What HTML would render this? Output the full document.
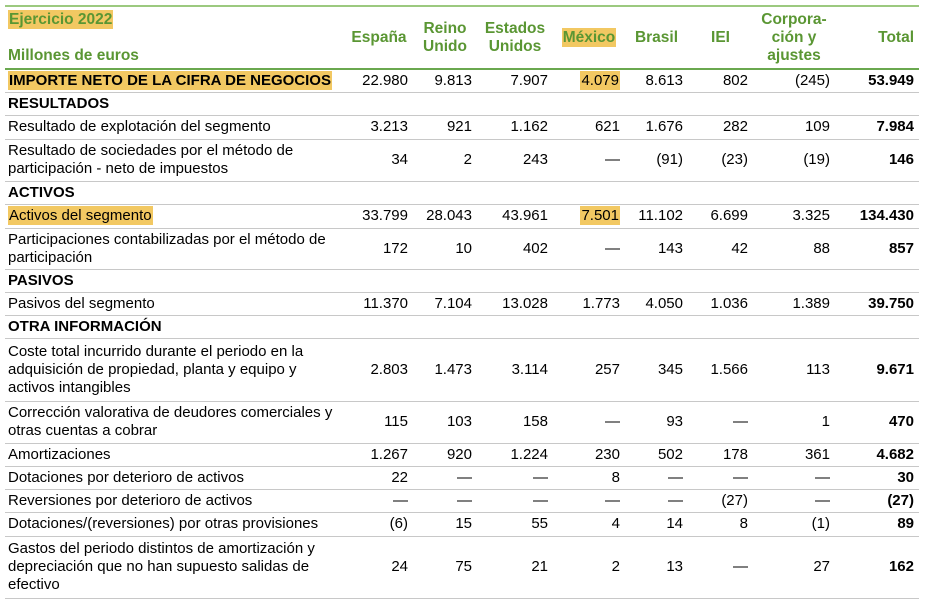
<!DOCTYPE html>
<html><head><meta charset="utf-8"><style>
body{margin:0;width:927px;height:608px;background:#fff;font-family:"Liberation Sans",Arial,sans-serif;color:#000;}
table{position:absolute;left:5px;top:5px;border-collapse:collapse;table-layout:fixed;width:914px;font-size:15px;line-height:18px;}
td,th{padding:0 5px;border-bottom:1px solid #c8c8c8;vertical-align:middle;white-space:nowrap;}
td:first-child{padding-left:3px;}
th{color:#5a9633;font-weight:bold;text-align:center;vertical-align:middle;font-size:15.5px;}
thead tr{border-top:2px solid #9cc97f;}
thead th{border-bottom:2px solid #6aa84f;}
td.n{text-align:right;}
td.t{font-weight:bold;text-align:right;}
.b{font-weight:bold;}
.hl{background:#f2c862;padding:1px 1px;}
</style></head><body>
<table>
<colgroup><col style="width:340px"><col style="width:68px"><col style="width:64px"><col style="width:76px"><col style="width:72px"><col style="width:63px"><col style="width:65px"><col style="width:82px"><col style="width:84px"></colgroup>
<thead><tr style="height:63px">
<th style="text-align:left;vertical-align:top;padding-top:4px;padding-left:3px"><span class="hl">Ejercicio 2022</span><div style="margin-top:18px">Millones de euros</div></th>
<th>España</th>
<th>Reino<br>Unido</th>
<th>Estados<br>Unidos</th>
<th><span class="hl">México</span></th>
<th>Brasil</th>
<th>IEI</th>
<th>Corpora-<br>ción y<br>ajustes</th>
<th style="text-align:right">Total</th>
</tr></thead>
<tbody>
<tr style="height:23px"><td class="b"><span class="hl">IMPORTE NETO DE LA CIFRA DE NEGOCIOS</span></td><td class="n">22.980</td><td class="n">9.813</td><td class="n">7.907</td><td class="n"><span class="hl">4.079</span></td><td class="n">8.613</td><td class="n">802</td><td class="n">(245)</td><td class="t">53.949</td></tr>
<tr style="height:23px"><td class="b" colspan="9">RESULTADOS</td></tr>
<tr style="height:24px"><td>Resultado de explotación del segmento</td><td class="n">3.213</td><td class="n">921</td><td class="n">1.162</td><td class="n">621</td><td class="n">1.676</td><td class="n">282</td><td class="n">109</td><td class="t">7.984</td></tr>
<tr style="height:42px"><td>Resultado de sociedades por el método de<br>participación - neto de impuestos</td><td class="n">34</td><td class="n">2</td><td class="n">243</td><td class="n">—</td><td class="n">(91)</td><td class="n">(23)</td><td class="n">(19)</td><td class="t">146</td></tr>
<tr style="height:23px"><td class="b" colspan="9">ACTIVOS</td></tr>
<tr style="height:24px"><td><span class="hl">Activos del segmento</span></td><td class="n">33.799</td><td class="n">28.043</td><td class="n">43.961</td><td class="n"><span class="hl">7.501</span></td><td class="n">11.102</td><td class="n">6.699</td><td class="n">3.325</td><td class="t">134.430</td></tr>
<tr style="height:41px"><td>Participaciones contabilizadas por el método de<br>participación</td><td class="n">172</td><td class="n">10</td><td class="n">402</td><td class="n">—</td><td class="n">143</td><td class="n">42</td><td class="n">88</td><td class="t">857</td></tr>
<tr style="height:23px"><td class="b" colspan="9">PASIVOS</td></tr>
<tr style="height:23px"><td>Pasivos del segmento</td><td class="n">11.370</td><td class="n">7.104</td><td class="n">13.028</td><td class="n">1.773</td><td class="n">4.050</td><td class="n">1.036</td><td class="n">1.389</td><td class="t">39.750</td></tr>
<tr style="height:23px"><td class="b" colspan="9">OTRA INFORMACIÓN</td></tr>
<tr style="height:63px"><td>Coste total incurrido durante el periodo en la<br>adquisición de propiedad, planta y equipo y<br>activos intangibles</td><td class="n">2.803</td><td class="n">1.473</td><td class="n">3.114</td><td class="n">257</td><td class="n">345</td><td class="n">1.566</td><td class="n">113</td><td class="t">9.671</td></tr>
<tr style="height:42px"><td>Corrección valorativa de deudores comerciales y<br>otras cuentas a cobrar</td><td class="n">115</td><td class="n">103</td><td class="n">158</td><td class="n">—</td><td class="n">93</td><td class="n">—</td><td class="n">1</td><td class="t">470</td></tr>
<tr style="height:23px"><td>Amortizaciones</td><td class="n">1.267</td><td class="n">920</td><td class="n">1.224</td><td class="n">230</td><td class="n">502</td><td class="n">178</td><td class="n">361</td><td class="t">4.682</td></tr>
<tr style="height:23px"><td>Dotaciones por deterioro de activos</td><td class="n">22</td><td class="n">—</td><td class="n">—</td><td class="n">8</td><td class="n">—</td><td class="n">—</td><td class="n">—</td><td class="t">30</td></tr>
<tr style="height:23px"><td>Reversiones por deterioro de activos</td><td class="n">—</td><td class="n">—</td><td class="n">—</td><td class="n">—</td><td class="n">—</td><td class="n">(27)</td><td class="n">—</td><td class="t">(27)</td></tr>
<tr style="height:24px"><td>Dotaciones/(reversiones) por otras provisiones</td><td class="n">(6)</td><td class="n">15</td><td class="n">55</td><td class="n">4</td><td class="n">14</td><td class="n">8</td><td class="n">(1)</td><td class="t">89</td></tr>
<tr style="height:62px"><td>Gastos del periodo distintos de amortización y<br>depreciación que no han supuesto salidas de<br>efectivo</td><td class="n">24</td><td class="n">75</td><td class="n">21</td><td class="n">2</td><td class="n">13</td><td class="n">—</td><td class="n">27</td><td class="t">162</td></tr>
</tbody></table>
</body></html>
